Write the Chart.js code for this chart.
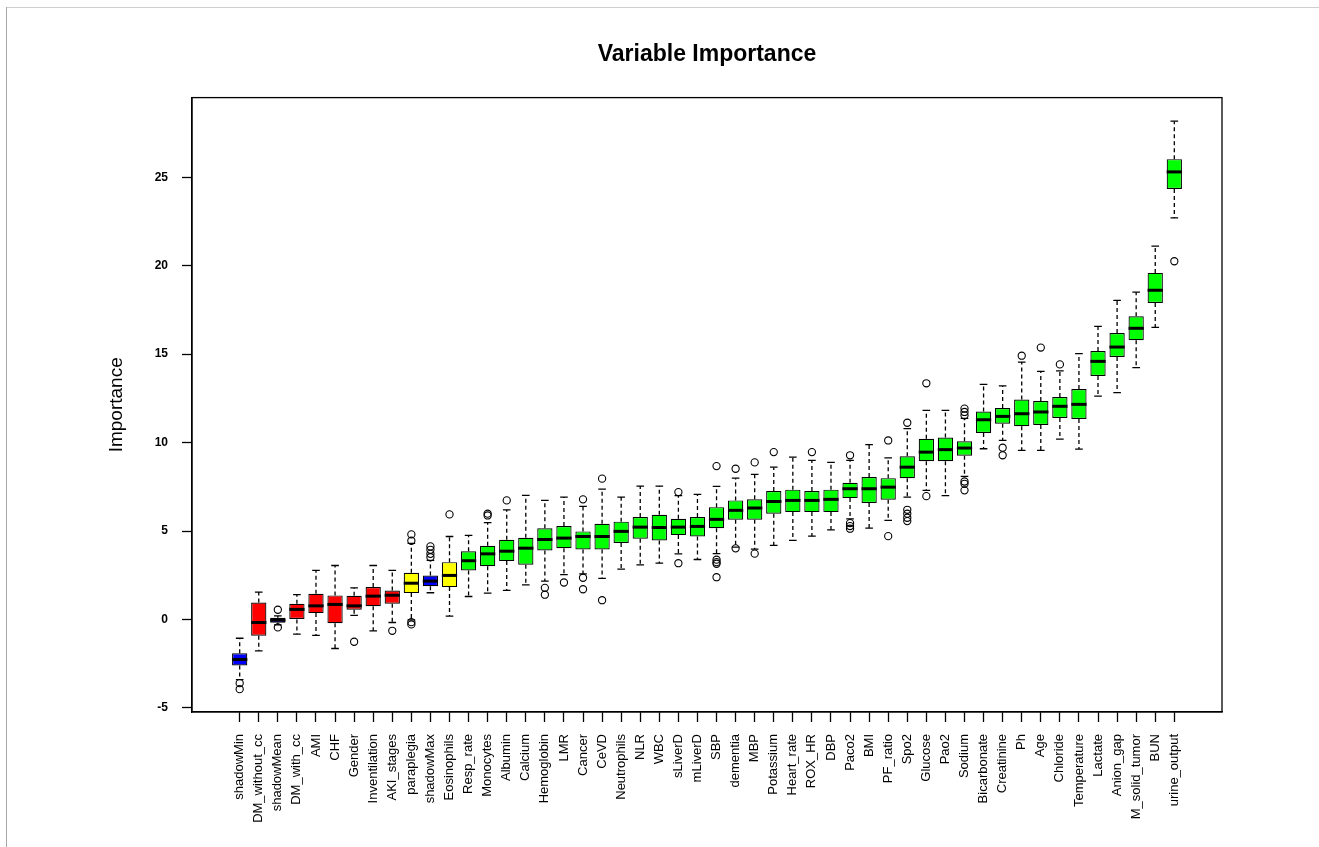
<!DOCTYPE html>
<html>
<head>
<meta charset="utf-8">
<script src="https://cdn.jsdelivr.net/npm/chart.js@4.4.1/dist/chart.umd.min.js"></script>
<style>
  html, body { margin: 0; padding: 0; background: #fff; }
  #wrap { position: relative; width: 1319px; height: 847px; }
  #edgeTop { position: absolute; left: 6px; top: 7px; width: 1313px; height: 1px; background: #cfcfcf; }
  #edgeLeft { position: absolute; left: 6px; top: 7px; width: 1px; height: 840px; background: #a8a8a8; }
  canvas { position: absolute; left: 0; top: 0; }
</style>
</head>
<body>
<div id="wrap">
  <canvas id="chart" width="1319" height="847"></canvas>
  <div id="edgeTop"></div>
  <div id="edgeLeft"></div>
</div>
<script>
// Boruta feature importance: one box per attribute (Z-score of importance)
const labels = [
  'shadowMin', 'DM_without_cc', 'shadowMean', 'DM_with_cc', 'AMI', 'CHF', 'Gender',
  'Inventilation', 'AKI_stages', 'paraplegia', 'shadowMax', 'Eosinophils', 'Resp_rate',
  'Monocytes', 'Albumin', 'Calcium', 'Hemoglobin', 'LMR', 'Cancer', 'CeVD', 'Neutrophils',
  'NLR', 'WBC', 'sLiverD', 'mLiverD', 'SBP', 'dementia', 'MBP', 'Potassium', 'Heart_rate',
  'ROX_HR', 'DBP', 'Paco2', 'BMI', 'PF_ratio', 'Spo2', 'Glucose', 'Pao2', 'Sodium',
  'Bicarbonate', 'Creatinine', 'Ph', 'Age', 'Chloride', 'Temperature', 'Lactate',
  'Anion_gap', 'M_solid_tumor', 'BUN', 'urine_output'
];

const decision = [
  'shadow', 'rejected', 'shadow', 'rejected', 'rejected', 'rejected', 'rejected',
  'rejected', 'rejected', 'tentative', 'shadow', 'tentative', 'confirmed',
  'confirmed', 'confirmed', 'confirmed', 'confirmed', 'confirmed', 'confirmed', 'confirmed', 'confirmed',
  'confirmed', 'confirmed', 'confirmed', 'confirmed', 'confirmed', 'confirmed', 'confirmed', 'confirmed', 'confirmed',
  'confirmed', 'confirmed', 'confirmed', 'confirmed', 'confirmed', 'confirmed', 'confirmed', 'confirmed', 'confirmed',
  'confirmed', 'confirmed', 'confirmed', 'confirmed', 'confirmed', 'confirmed', 'confirmed',
  'confirmed', 'confirmed', 'confirmed', 'confirmed'
];

const whiskerLow = [
  -3.40, -1.77, -0.30, -0.83, -0.90, -1.64, 0.23,
  -0.64, -0.17, -0.02, 1.51, 0.19, 1.30,
  1.49, 1.64, 1.96, 2.17, 2.53, 2.58, 2.32, 2.85,
  3.09, 3.18, 3.71, 3.39, 3.72, 4.09, 3.98, 4.19, 4.47,
  4.71, 5.07, 5.69, 5.16, 5.60, 6.92, 7.30, 7.00, 8.09,
  9.65, 10.12, 9.56, 9.56, 10.20, 9.63, 12.63,
  12.82, 14.24, 16.51, 22.70
];

const lowerHinge = [
  -2.60, -0.92, -0.19, 0.00, 0.36, -0.21, 0.55,
  0.75, 0.89, 1.49, 1.88, 1.83, 2.77,
  3.01, 3.30, 3.09, 3.90, 4.03, 3.96, 3.96, 4.32,
  4.56, 4.47, 4.77, 4.69, 5.16, 5.64, 5.64, 5.98, 6.07,
  6.07, 6.07, 6.86, 6.58, 6.77, 7.99, 8.94, 8.94, 9.26,
  10.54, 11.07, 10.92, 10.99, 11.39, 11.33, 13.76,
  14.84, 15.78, 17.89, 24.34
];

const medians = [
  -2.26, -0.17, -0.04, 0.57, 0.77, 0.85, 0.77,
  1.32, 1.37, 2.05, 2.17, 2.49, 3.32,
  3.71, 3.86, 4.03, 4.52, 4.60, 4.69, 4.69, 4.98,
  5.22, 5.20, 5.22, 5.26, 5.66, 6.17, 6.30, 6.67, 6.73,
  6.73, 6.79, 7.39, 7.39, 7.48, 8.61, 9.46, 9.60, 9.69,
  11.29, 11.48, 11.63, 11.73, 12.05, 12.16, 14.59,
  15.40, 16.46, 18.61, 25.30
];

const upperHinge = [
  -1.91, 0.96, 0.10, 0.89, 1.45, 1.36, 1.34,
  1.83, 1.64, 2.64, 2.49, 3.24, 3.85,
  4.17, 4.51, 4.62, 5.16, 5.28, 4.98, 5.41, 5.53,
  5.79, 5.92, 5.69, 5.79, 6.35, 6.73, 6.79, 7.26, 7.34,
  7.26, 7.34, 7.73, 8.05, 7.99, 9.22, 10.22, 10.28, 10.07,
  11.76, 11.95, 12.43, 12.35, 12.57, 13.03, 15.18,
  16.19, 17.14, 19.59, 26.02
];

const whiskerHigh = [
  -1.06, 1.55, 0.20, 1.41, 2.77, 3.05, 1.79,
  3.05, 2.77, 4.30, 3.34, 4.69, 4.75,
  5.47, 6.20, 7.01, 6.73, 6.92, 6.39, 7.37, 6.92,
  7.54, 7.54, 7.00, 7.07, 7.52, 7.99, 8.20, 8.61, 9.18,
  8.99, 8.88, 8.99, 9.88, 9.14, 10.79, 11.82, 11.82, 11.37,
  13.29, 13.20, 14.55, 14.03, 14.05, 15.03, 16.57,
  18.04, 18.50, 21.11, 28.17
];

const outliers = [
  [-3.60, -3.94], [], [0.55, -0.45], [], [], [], [-1.26],
  [], [-0.64], [4.81, 4.45, -0.15, -0.28], [3.52, 3.71, 3.94, 4.13], [5.94], [],
  [5.88, 5.98], [6.73], [], [1.79, 1.40], [2.09], [6.79, 2.36, 1.71], [7.96, 1.09], [],
  [], [], [7.20, 3.18], [], [8.67, 3.38, 3.24, 3.15, 2.39], [8.52, 4.02], [8.88, 3.72], [9.46], [],
  [9.46], [], [9.28, 5.45, 5.28, 5.13], [], [10.12, 4.71], [11.12, 6.20, 5.98, 5.75, 5.56], [13.35, 6.97], [], [11.54, 11.73, 11.92, 7.80, 7.67, 7.30],
  [], [9.71, 9.28], [14.91], [15.37], [14.42], [], [],
  [], [], [], [20.25]
];

const yTicks = [-5, 0, 5, 10, 15, 20, 25];

const decisionColors = {
  shadow: '#0000FF',
  rejected: '#FF0000',
  tentative: '#FFFF00',
  confirmed: '#00FF00'
};

const FONT = "'Liberation Sans', Arial, Helvetica, sans-serif";

// Box bodies: floating bars from lower to upper hinge
const boxData = labels.map((_, i) => ({ x: i + 1, y: [lowerHinge[i], upperHinge[i]] }));
const outlierPoints = [];
outliers.forEach((list, i) => list.forEach(v => outlierPoints.push({ x: i + 1, y: v })));

// Whiskers, staples and medians drawn on top of the bars
const boxExtras = {
  id: 'boxExtras',
  afterDatasetsDraw(chart) {
    const ctx = chart.ctx;
    const ys = chart.scales.y;
    const meta = chart.getDatasetMeta(0);
    ctx.save();
    meta.data.forEach((el, i) => {
      const x = el.x;
      const w = el.width;
      const yq1 = ys.getPixelForValue(lowerHinge[i]);
      const yq3 = ys.getPixelForValue(upperHinge[i]);
      const ylo = ys.getPixelForValue(whiskerLow[i]);
      const yhi = ys.getPixelForValue(whiskerHigh[i]);
      const ymed = ys.getPixelForValue(medians[i]);
      ctx.strokeStyle = '#000';
      // dashed whiskers
      ctx.lineWidth = 1.3;
      ctx.setLineDash([4, 3]);
      ctx.beginPath();
      if (yhi < yq3) { ctx.moveTo(x, yq3); ctx.lineTo(x, yhi); }
      if (ylo > yq1) { ctx.moveTo(x, yq1); ctx.lineTo(x, ylo); }
      ctx.stroke();
      // staples
      ctx.setLineDash([]);
      ctx.beginPath();
      ctx.moveTo(x - w / 4, yhi); ctx.lineTo(x + w / 4, yhi);
      ctx.moveTo(x - w / 4, ylo); ctx.lineTo(x + w / 4, ylo);
      ctx.stroke();
      // median
      ctx.lineWidth = 3;
      ctx.beginPath();
      ctx.moveTo(x - w / 2, ymed); ctx.lineTo(x + w / 2, ymed);
      ctx.stroke();
    });
    ctx.restore();
  }
};

// Full frame around the plotting region
const frame = {
  id: 'frame',
  afterDraw(chart) {
    const a = chart.chartArea;
    const ctx = chart.ctx;
    ctx.save();
    ctx.strokeStyle = '#000';
    ctx.lineWidth = 1.3;
    ctx.strokeRect(a.left, a.top, a.right - a.left, a.bottom - a.top);
    ctx.restore();
  }
};

new Chart(document.getElementById('chart'), {
  type: 'bar',
  data: {
    datasets: [
      {
        type: 'bar',
        data: boxData,
        backgroundColor: decision.map(d => decisionColors[d]),
        borderColor: '#000',
        borderWidth: 1.2,
        borderSkipped: false,
        categoryPercentage: 0.8,
        barPercentage: 1.0,
        order: 2
      },
      {
        type: 'scatter',
        data: outlierPoints,
        pointStyle: 'circle',
        pointRadius: 3.6,
        pointBackgroundColor: 'rgba(0,0,0,0)',
        pointBorderColor: '#000',
        pointBorderWidth: 1.1,
        order: 1
      }
    ]
  },
  options: {
    responsive: false,
    animation: false,
    layout: { padding: { left: 96, right: 97, top: 0, bottom: 0 } },
    plugins: {
      legend: { display: false },
      tooltip: { enabled: false },
      title: {
        display: true,
        text: 'Variable Importance',
        fullSize: false,
        color: '#000',
        font: { family: FONT, size: 23, weight: 'bold' },
        padding: { top: 41, bottom: 29 }
      }
    },
    scales: {
      x: {
        type: 'linear',
        offset: false,
        min: -1.5,
        max: 52.5,
        afterFit(scale) { scale.height = 135; },
        afterBuildTicks(scale) { scale.ticks = labels.map((_, i) => ({ value: i + 1 })); },
        ticks: {
          autoSkip: false,
          minRotation: 90,
          maxRotation: 90,
          padding: 12,
          color: '#000',
          font: { family: FONT, size: 13 },
          callback: (v) => labels[v - 1]
        },
        grid: { offset: false, drawOnChartArea: false, drawTicks: true, tickLength: 10, color: '#000', tickWidth: 1.3 },
        border: { display: true, color: '#000', width: 1.3 }
      },
      y: {
        type: 'linear',
        min: -5.23,
        max: 29.5,
        afterFit(scale) { scale.width = 96; },
        afterBuildTicks(scale) { scale.ticks = yTicks.map(v => ({ value: v })); },
        ticks: {
          padding: 14,
          color: '#000',
          font: { family: FONT, size: 12, weight: 'bold' }
        },
        grid: { drawOnChartArea: false, drawTicks: true, tickLength: 10, color: '#000', tickWidth: 1.3 },
        border: { display: true, color: '#000', width: 1.3 },
        title: {
          display: true,
          text: 'Importance',
          color: '#000',
          font: { family: FONT, size: 19 },
          padding: { top: 9, bottom: 0 }
        }
      }
    }
  },
  plugins: [boxExtras, frame]
});
</script>
</body>
</html>
